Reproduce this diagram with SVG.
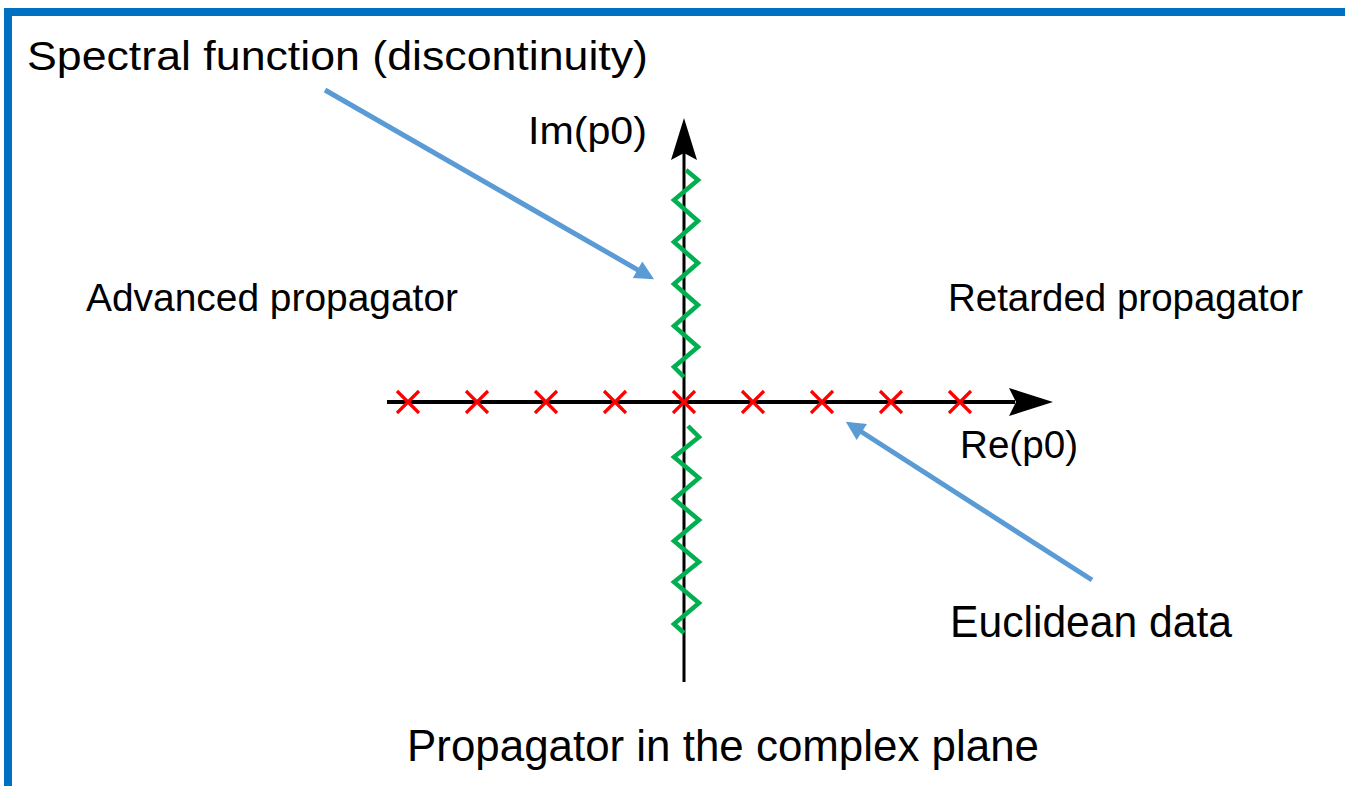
<svg xmlns="http://www.w3.org/2000/svg" width="1345" height="786" viewBox="0 0 1345 786">
  <defs>
    <marker id="blueArrow" viewBox="0 0 10 10" refX="3" refY="5" markerWidth="4.8" markerHeight="3.8" orient="auto" markerUnits="strokeWidth">
      <path d="M0,0 L10,5 L0,10 z" fill="#5B9BD5"/>
    </marker>
  </defs>
  <style>
    text { font-family: "Liberation Sans", Arial, sans-serif; fill: #000000; }
    .axis { stroke: #000000; fill: none; }
    .cross { stroke: #FF0000; stroke-width: 3.2; fill: none; }
    .zig { stroke: #00B050; stroke-width: 4.5; fill: none; stroke-linejoin: miter; }
    .pointer { stroke: #5B9BD5; stroke-width: 5; fill: none; marker-end: url(#blueArrow); }
  </style>
  <rect x="0" y="0" width="1345" height="786" fill="#FFFFFF"/>
  <rect id="frame" x="8" y="12" width="1400" height="900" fill="none" stroke="#0070C0" stroke-width="8"/>

  <g id="connectors">
    <g id="axes">
      <line class="axis" x1="387" y1="402" x2="1015" y2="402" stroke-width="4"/>
      <path d="M1053,402 L1009,388 L1016,402 L1009,416 Z" fill="#000000"/>
      <line class="axis" x1="684" y1="682" x2="684" y2="150" stroke-width="3"/>
      <path d="M684,118 L697,160 L684,153 L671,160 Z" fill="#000000"/>
    </g>
    <line id="arrow-spectral" class="pointer" x1="325" y1="90" x2="642.5" y2="272.6"/>
    <line id="arrow-euclid" class="pointer" x1="1092" y1="580" x2="857" y2="429"/>
  </g>

  <g id="branch-cut-upper">
    <path class="zig" d="M686,170 L698,180 L674,200 L698,221 L674,242 L698,263 L674,284 L698,305 L674,326 L698,347 L674,367 L684,377"/>
  </g>
  <g id="branch-cut-lower">
    <path class="zig" d="M688,426 L699,437 L674,457 L699,478 L674,499 L699,520 L674,541 L699,562 L674,582 L699,603 L674,624 L684,633"/>
  </g>

  <g id="poles">
    <path class="cross" d="M397,391 L419,413 M419,391 L397,413"/>
    <path class="cross" d="M466,391 L488,413 M488,391 L466,413"/>
    <path class="cross" d="M535,391 L557,413 M557,391 L535,413"/>
    <path class="cross" d="M604,391 L626,413 M626,391 L604,413"/>
    <path class="cross" d="M673,391 L695,413 M695,391 L673,413"/>
    <path class="cross" d="M742,391 L764,413 M764,391 L742,413"/>
    <path class="cross" d="M811,391 L833,413 M833,391 L811,413"/>
    <path class="cross" d="M880,391 L902,413 M902,391 L880,413"/>
    <path class="cross" d="M949,391 L971,413 M971,391 L949,413"/>
  </g>

  <g id="label-spectral"><text x="27" y="70" font-size="41" textLength="621" lengthAdjust="spacingAndGlyphs">Spectral function (discontinuity)</text></g>
  <g id="label-im"><text x="528" y="144" font-size="38" textLength="119" lengthAdjust="spacingAndGlyphs">Im(p0)</text></g>
  <g id="label-advanced"><text x="86" y="311" font-size="38" textLength="372" lengthAdjust="spacingAndGlyphs">Advanced propagator</text></g>
  <g id="label-retarded"><text x="948" y="311" font-size="38" textLength="355" lengthAdjust="spacingAndGlyphs">Retarded propagator</text></g>
  <g id="label-re"><text x="960" y="458" font-size="38" textLength="118" lengthAdjust="spacingAndGlyphs">Re(p0)</text></g>
  <g id="label-euclid"><text x="950" y="637" font-size="44" textLength="282" lengthAdjust="spacingAndGlyphs">Euclidean data</text></g>
  <g id="label-title"><text x="407" y="761" font-size="45" textLength="632" lengthAdjust="spacingAndGlyphs">Propagator in the complex plane</text></g>
</svg>
